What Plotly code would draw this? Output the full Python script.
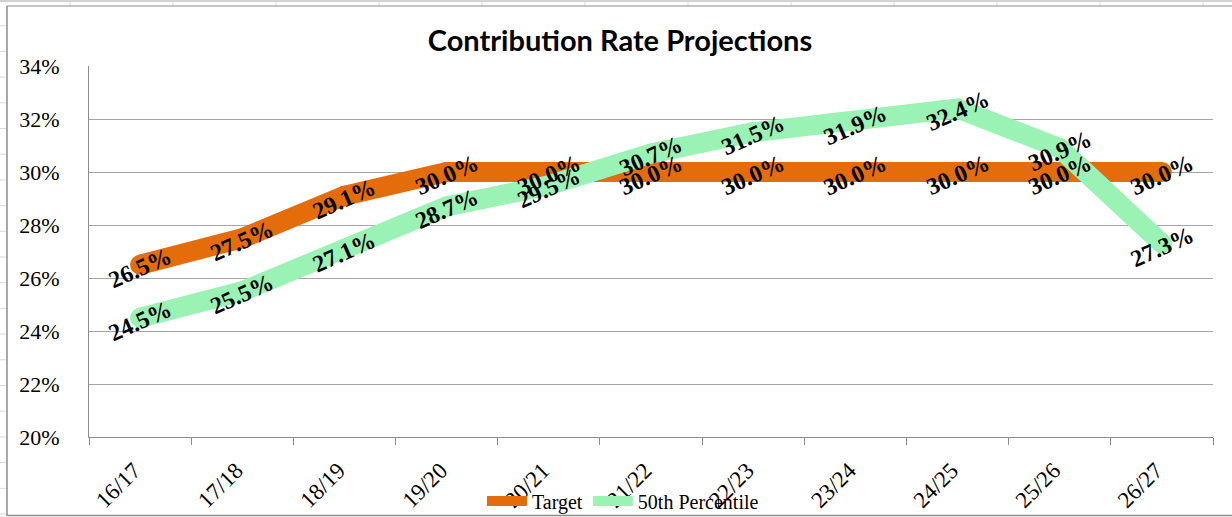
import plotly.graph_objects as go

# ---- data ----
categories = ["16/17", "17/18", "18/19", "19/20", "20/21", "21/22",
              "22/23", "23/24", "24/25", "25/26", "26/27"]
target = [26.5, 27.5, 29.1, 30.0, 30.0, 30.0, 30.0, 30.0, 30.0, 30.0, 30.0]
p50 = [24.5, 25.5, 27.1, 28.7, 29.5, 30.7, 31.5, 31.9, 32.4, 30.9, 27.3]
y_ticks = [20, 22, 24, 26, 28, 30, 32, 34]
y_tick_text = [f"{v}%" for v in y_ticks]

ORANGE = "#E46C0A"
GREEN = "#9AF2B4"
W, H = 1232, 517
L, R, T, B = 89, 1213, 66, 437  # plot area in pixels

def px(xp):
    return (xp - L) / (R - L)

def py(yp):
    return (B - yp) / (B - T)

SERIF = "Liberation Serif, Times New Roman, serif"

fig = go.Figure()
for name, vals, col in [("Target", target, ORANGE), ("50th Percentile", p50, GREEN)]:
    fig.add_trace(go.Scatter(x=categories, y=vals, name=name, mode="lines",
                             line=dict(color=col, width=20)))
    fig.add_trace(go.Scatter(x=categories, y=vals, mode="markers", showlegend=False,
                             marker=dict(color=col, size=20, line=dict(width=0)),
                             hoverinfo="skip"))

annotations = []
for vals in (target, p50):
    for c, v in zip(categories, vals):
        annotations.append(dict(x=c, y=v, xref="x", yref="y", text=f"<b>{v:.1f}%</b>",
                                showarrow=False, textangle=-24, yshift=-3,
                                font=dict(family=SERIF, size=24, color="black")))

shapes = []
GRID = "#d9d9d9"
FRAME = "#8c8c8c"
# spreadsheet cell lines outside the chart frame
shapes.append(dict(type="line", xref="paper", yref="paper",
                   x0=px(0), x1=px(W), y0=py(1), y1=py(1), line=dict(color="#a6a6a6", width=1)))
for k in range(12):
    xx = 70 + 103 * k
    shapes.append(dict(type="line", xref="paper", yref="paper",
                       x0=px(xx), x1=px(xx), y0=py(1), y1=py(6), line=dict(color=GRID, width=1)))
for k in range(1, 21):
    yy = 25.7 * k
    shapes.append(dict(type="line", xref="paper", yref="paper",
                       x0=px(0), x1=px(7), y0=py(yy), y1=py(yy), line=dict(color=GRID, width=1)))
# chart frame
shapes.append(dict(type="line", xref="paper", yref="paper",
                   x0=px(7), x1=px(W), y0=py(6), y1=py(6), line=dict(color=FRAME, width=1)))
shapes.append(dict(type="line", xref="paper", yref="paper",
                   x0=px(7), x1=px(7), y0=py(6), y1=py(516), line=dict(color=FRAME, width=1.5)))
shapes.append(dict(type="line", xref="paper", yref="paper",
                   x0=px(7), x1=px(W), y0=py(515.5), y1=py(515.5), line=dict(color=FRAME, width=1.5)))

fig.update_layout(
    width=W, height=H,
    margin=dict(l=L, r=W - R, t=T, b=H - B, pad=0, autoexpand=False),
    paper_bgcolor="white", plot_bgcolor="white",
    title=dict(text="<b>Contribution Rate Projections</b>", x=620 / W, xanchor="center",
               y=1 - 41 / H, yanchor="middle", yref="container",
               font=dict(family="Lato", size=29, color="black")),
    xaxis=dict(type="category", range=[-0.5, len(categories) - 0.5], automargin=False,
               showline=True, linecolor="#8c8c8c", linewidth=1,
               ticks="outside", tickson="boundaries", ticklen=7, tickcolor="#8c8c8c",
               showgrid=False, tickangle=-45, ticklabelstandoff=10, ticklabelshift=-6,
               tickfont=dict(family=SERIF, size=23, color="black")),
    yaxis=dict(range=[20, 34], tickmode="array", tickvals=y_ticks, ticktext=y_tick_text,
               automargin=False,
               showline=True, linecolor="#8c8c8c", linewidth=1,
               showgrid=True, gridcolor="#a6a6a6", gridwidth=1, zeroline=False,
               ticks="outside", ticklen=24, tickcolor="rgba(0,0,0,0)",
               tickfont=dict(family=SERIF, size=22, color="black")),
    legend=dict(orientation="h", x=px(623), xanchor="center", y=py(501), yanchor="middle",
                bgcolor="rgba(0,0,0,0)", font=dict(family=SERIF, size=20, color="black"),
                itemwidth=40, traceorder="normal"),
    annotations=annotations,
    shapes=shapes,
    showlegend=True,
)

fig.write_html("out.html", config={"displayModeBar": False},
               post_script="document.body.style.margin='0';document.body.style.overflow='hidden';")
